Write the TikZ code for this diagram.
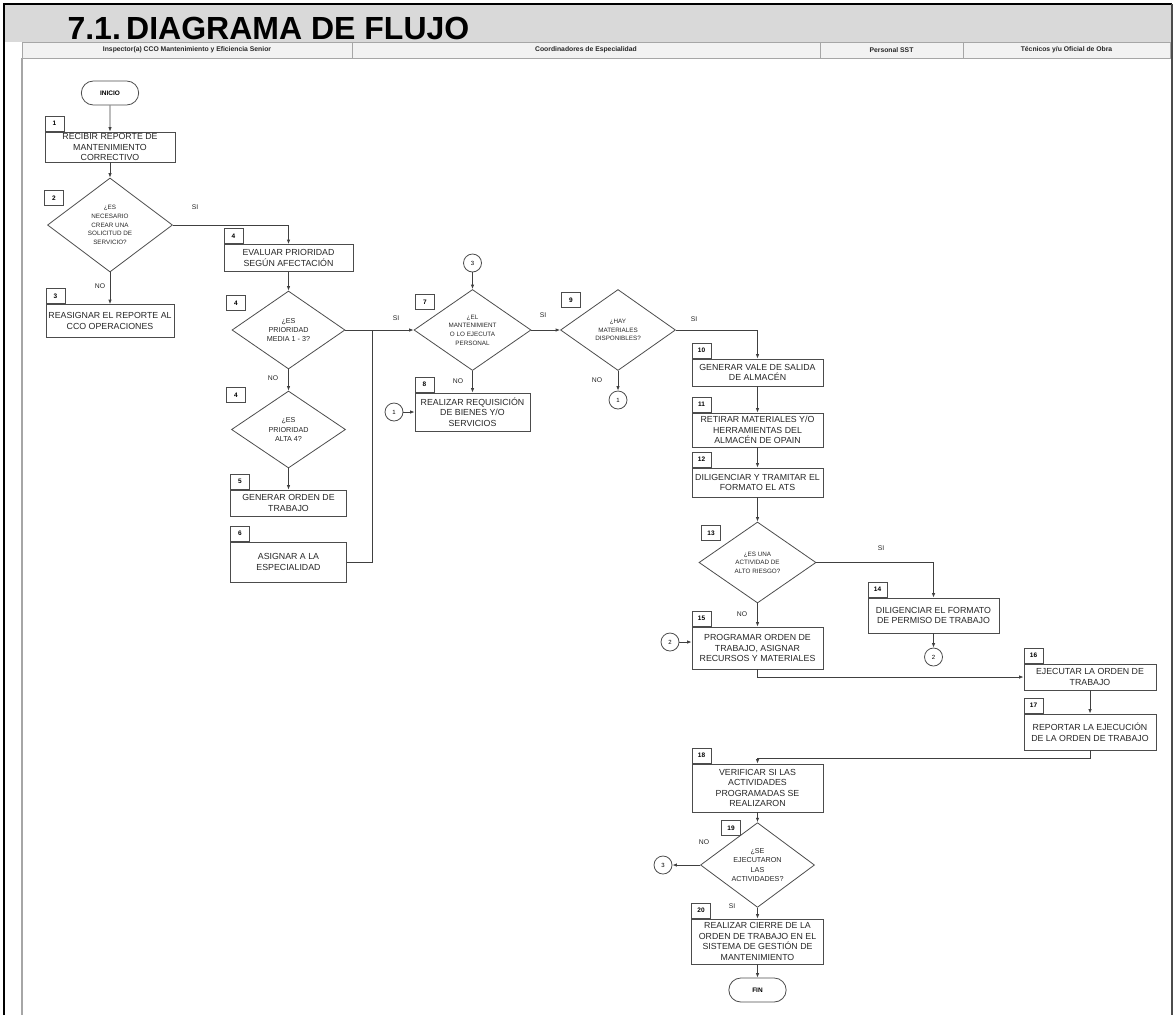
\documentclass[tikz,border=0pt]{standalone}
\usepackage{fontspec}
\setmainfont{Liberation Sans}
\usetikzlibrary{arrows.meta, positioning, shapes.geometric, shapes.misc, calc}

\newcommand{\boxfont}{\fontsize{8.8}{10.5}\selectfont}
\newcommand{\decfont}{\fontsize{6.3}{8.6}\selectfont}
\newcommand{\decbig}{\fontsize{7.2}{9.2}\selectfont}
\newcommand{\numfont}{\fontsize{6.5}{7}\selectfont\bfseries}
\newcommand{\hdrfont}{\fontsize{6.8}{7}\selectfont\bfseries}

\tikzset{
  flow/.style={draw=black!75, line width=0.8pt},
  proc/.style={draw=black!70, line width=0.8pt, rectangle, align=center,
    font=\boxfont, inner sep=1pt, text=black!85},
  dec/.style={draw=black!70, line width=0.8pt, diamond, align=center,
    font=\decfont, inner sep=0pt, text=black!85},
  num/.style={draw=black!70, line width=0.8pt, rectangle, font=\numfont,
    minimum width=19, minimum height=15, inner sep=0pt},
  term/.style={draw=black!70, line width=0.8pt, rounded rectangle,
    font=\numfont, minimum width=64, minimum height=24},
  conn/.style={draw=black!70, line width=0.8pt, circle,
    font=\fontsize{6}{6}\selectfont, minimum size=18, inner sep=0pt},
  lbl/.style={font=\fontsize{6.8}{7}\selectfont, text=black!85, inner sep=0pt},
  hdr/.style={font=\hdrfont, text=black!85},
}

\begin{document}
\begin{tikzpicture}[x=1pt, y=-1pt, >={Latex[length=4.5pt,width=3.5pt]}]
  \useasboundingbox (0,0) rectangle (1174,1015);

  % frame, title and lanes
  \fill[gray!30] (4,4) rectangle (1172,42);
  \draw[fill=gray!10, draw=gray!70, line width=1pt] (22,42) rectangle (1170,58);
  \foreach \xs in {352,820,963}
    \draw[gray!70, line width=1pt] (\xs,42) -- (\xs,58);
  \draw[gray!70, line width=1.2pt] (22,58) -- (22,1015);
  \draw[line width=2.5pt] (4,1015) -- (4,4) -- (1172,4);
  \draw[black!70, line width=1.5pt] (1172,4) -- (1172,1015);
  \node[anchor=base west, font=\fontsize{32}{32}\selectfont\bfseries] (ttl)
    at (64,39) {7.1.\,DIAGRAMA DE FLUJO};

  \node[hdr] (h1) at (187,50) {Inspector(a) CCO Mantenimiento y Eficiencia Senior};
  \node[hdr] (h2) at (586,50) {Coordinadores de Especialidad};
  \node[hdr] (h3) at (891.5,50) {Personal SST};
  \node[hdr] (h4) at (1066.5,50) {Técnicos y/u Oficial de Obra};

  % inspector lane
  \node[term] (ini) at (110,93) {INICIO};
  \node[proc, minimum width=130, minimum height=30] (b1) at (110,147)
    {RECIBIR REPORTE DE\\MANTENIMIENTO\\CORRECTIVO};
  \node[num, anchor=south west] (n1) at (b1.north west) {1};
  \node[dec, minimum width=125, minimum height=94] (d2) at (110,225)
    {¿ES\\NECESARIO\\CREAR UNA\\SOLICITUD DE\\SERVICIO?};
  \node[num] (n2) at (54,198) {2};
  \node[proc, minimum width=128, minimum height=33] (b3) at (110,321)
    {REASIGNAR EL REPORTE AL\\CCO OPERACIONES};
  \node[num, anchor=south west] (n3) at (b3.north west) {3};

  \node[proc, minimum width=129, minimum height=27] (b4) at (288.5,258)
    {EVALUAR PRIORIDAD\\SEGÚN AFECTACIÓN};
  \node[num, anchor=south west] (n4a) at (b4.north west) {4};
  \node[dec, font=\decbig, minimum width=113, minimum height=78] (d4a) at (288.5,330)
    {¿ES\\PRIORIDAD\\MEDIA 1 - 3?};
  \node[num] (n4b) at (236,303) {4};
  \node[dec, font=\decbig, minimum width=114, minimum height=77] (d4b) at (288.5,429.5)
    {¿ES\\PRIORIDAD\\ALTA 4?};
  \node[num] (n4c) at (236,395) {4};
  \node[proc, minimum width=116, minimum height=26] (b5) at (288.5,503)
    {GENERAR ORDEN DE\\TRABAJO};
  \node[num, anchor=south west] (n5) at (b5.north west) {5};
  \node[proc, minimum width=116, minimum height=40] (b6) at (288.5,562)
    {ASIGNAR A LA\\ESPECIALIDAD};
  \node[num, anchor=south west] (n6) at (b6.north west) {6};

  % coordinadores lane
  \node[conn] (c3a) at (472.5,263) {3};
  \node[dec, minimum width=117, minimum height=81] (d7) at (472.5,330)
    {¿EL\\MANTENIMIENT\\O LO EJECUTA\\PERSONAL};
  \node[num] (n7) at (425,302) {7};
  \node[proc, minimum width=115, minimum height=38] (b8) at (472.5,412)
    {REALIZAR REQUISICIÓN\\DE BIENES Y/O\\SERVICIOS};
  \node[num, anchor=south west] (n8) at (b8.north west) {8};
  \node[conn] (c1a) at (394,412) {1};
  \node[dec, minimum width=115, minimum height=81] (d9) at (618,330)
    {¿HAY\\MATERIALES\\DISPONIBLES?};
  \node[num] (n9) at (571,300) {9};
  \node[conn] (c1b) at (618,400) {1};

  \node[proc, minimum width=131, minimum height=27] (b10) at (757.5,372.5)
    {GENERAR VALE DE SALIDA\\DE ALMACÉN};
  \node[num, anchor=south west] (n10) at (b10.north west) {10};
  \node[proc, minimum width=131, minimum height=34] (b11) at (757.5,430)
    {RETIRAR MATERIALES Y/O\\HERRAMIENTAS DEL\\ALMACÉN DE OPAIN};
  \node[num, anchor=south west] (n11) at (b11.north west) {11};
  \node[proc, minimum width=131, minimum height=29] (b12) at (757.5,482.5)
    {DILIGENCIAR Y TRAMITAR EL\\FORMATO EL ATS};
  \node[num, anchor=south west] (n12) at (b12.north west) {12};
  \node[dec, minimum width=117, minimum height=81] (d13) at (757.5,562.5)
    {¿ES UNA\\ACTIVIDAD DE\\ALTO RIESGO?};
  \node[num] (n13) at (711,533) {13};
  \node[proc, minimum width=131, minimum height=35] (b14) at (933.5,615.5)
    {DILIGENCIAR EL FORMATO\\DE PERMISO DE TRABAJO};
  \node[num, anchor=south west] (n14) at (b14.north west) {14};
  \node[conn] (c2b) at (933.5,657) {2};
  \node[proc, minimum width=131, minimum height=42] (b15) at (757.5,648)
    {PROGRAMAR ORDEN DE\\TRABAJO, ASIGNAR\\RECURSOS Y MATERIALES};
  \node[num, anchor=south west] (n15) at (b15.north west) {15};
  \node[conn] (c2a) at (670,642) {2};

  % tecnicos lane
  \node[proc, minimum width=132, minimum height=26] (b16) at (1090,677)
    {EJECUTAR LA ORDEN DE\\TRABAJO};
  \node[num, anchor=south west] (n16) at (b16.north west) {16};
  \node[proc, minimum width=132, minimum height=36] (b17) at (1090,732)
    {REPORTAR LA EJECUCIÓN\\DE LA ORDEN DE TRABAJO};
  \node[num, anchor=south west] (n17) at (b17.north west) {17};

  \node[proc, minimum width=131, minimum height=48] (b18) at (757.5,788)
    {VERIFICAR SI LAS\\ACTIVIDADES\\PROGRAMADAS SE\\REALIZARON};
  \node[num, anchor=south west] (n18) at (b18.north west) {18};
  \node[dec, font=\decbig, minimum width=114, minimum height=80] (d19) at (757.5,865)
    {¿SE\\EJECUTARON\\LAS\\ACTIVIDADES?};
  \node[num] (n19) at (731,828) {19};
  \node[conn] (c3b) at (663,865) {3};
  \node[proc, minimum width=132, minimum height=45] (b20) at (757.5,941.5)
    {REALIZAR CIERRE DE LA\\ORDEN DE TRABAJO EN EL\\SISTEMA DE GESTIÓN DE\\MANTENIMIENTO};
  \node[num, anchor=south west] (n20) at (b20.north west) {20};
  \node[term] (fin) at (757.5,990) {FIN};

  % SI / NO
  \node[lbl] (s2) at (195,207) {SI};
  \node[lbl] (o2) at (100,286) {NO};
  \node[lbl] (s4) at (396,318) {SI};
  \node[lbl] (o4) at (273,378) {NO};
  \node[lbl] (s7) at (543,315) {SI};
  \node[lbl] (o7) at (458,381) {NO};
  \node[lbl] (s9) at (694,319) {SI};
  \node[lbl] (o9) at (597,380) {NO};
  \node[lbl] (s13) at (881,548) {SI};
  \node[lbl] (o13) at (742,614) {NO};
  \node[lbl] (o19) at (704,842) {NO};
  \node[lbl] (s19) at (732,906) {SI};

  % connectors
  \draw[flow,->] (ini) -- (b1);
  \draw[flow,->] (b1) -- (d2);
  \draw[flow,->] (d2.east) -| (b4.north);
  \draw[flow,->] (d2.south) -- (b3.north);
  \draw[flow,->] (b4) -- (d4a);
  \draw[flow,->] (d4a.east) -- (d7.west);
  \draw[flow,->] (d4a.south) -- (d4b.north);
  \draw[flow,->] (d4b.south) -- (b5.north);
  \coordinate (j6) at (372,330);
  \draw[flow] (b6.east) -| (j6);
  \draw[flow,->] (c3a) -- (d7);
  \draw[flow,->] (d7.south) -- (b8.north);
  \draw[flow,->] (c1a) -- (b8);
  \draw[flow,->] (d7.east) -- (d9.west);
  \draw[flow,->] (d9.south) -- (c1b.north);
  \draw[flow,->] (d9.east) -| (b10.north);
  \draw[flow,->] (b10) -- (b11);
  \draw[flow,->] (b11) -- (b12);
  \draw[flow,->] (b12) -- (d13);
  \draw[flow,->] (d13.east) -| (b14.north);
  \draw[flow,->] (b14) -- (c2b);
  \draw[flow,->] (d13.south) -- (b15.north);
  \draw[flow,->] (c2a) -- (c2a -| b15.west);
  \draw[flow,->] (b15.south) |- (b16.west);
  \draw[flow,->] (b16) -- (b17);
  \draw[flow,->] (b17.south) -- ++(0,8) -| (b18.north);
  \draw[flow,->] (b18) -- (d19);
  \draw[flow,->] (d19.west) -- (c3b);
  \draw[flow,->] (d19.south) -- (b20.north);
  \draw[flow,->] (b20) -- (fin);
\end{tikzpicture}
\end{document}
